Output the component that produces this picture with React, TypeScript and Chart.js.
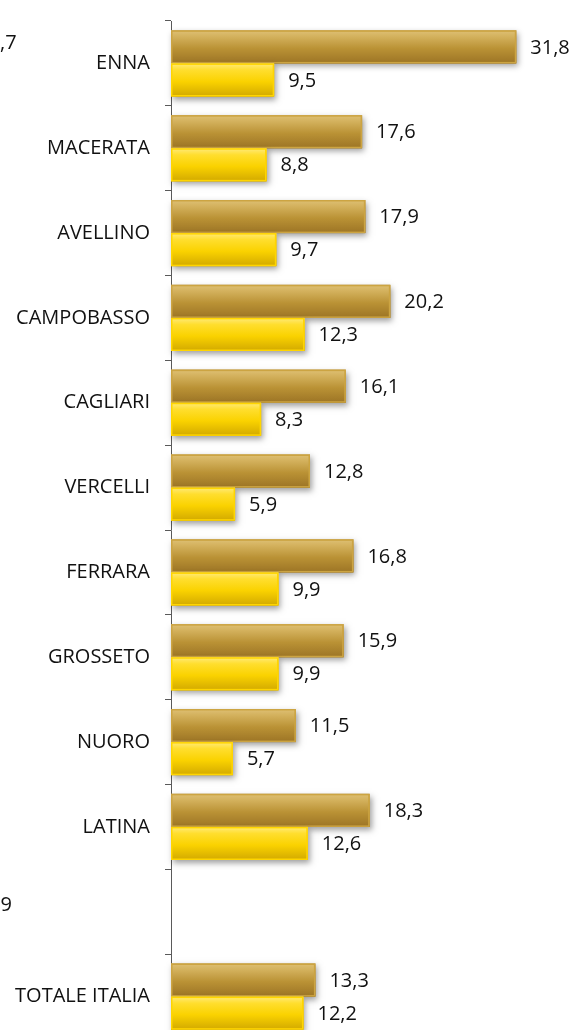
import React, { useEffect, useRef } from "react";
import { Chart, registerables } from "chart.js";

Chart.register(...registerables);

const categories = [
  "ENNA",
  "MACERATA",
  "AVELLINO",
  "CAMPOBASSO",
  "CAGLIARI",
  "VERCELLI",
  "FERRARA",
  "GROSSETO",
  "NUORO",
  "LATINA",
  "",
  "TOTALE ITALIA",
];
const seriesGold = [31.8, 17.6, 17.9, 20.2, 16.1, 12.8, 16.8, 15.9, 11.5, 18.3, null, 13.3];
const seriesYellow = [9.5, 8.8, 9.7, 12.3, 8.3, 5.9, 9.9, 9.9, 5.7, 12.6, null, 12.2];
const xMin = 0;
const xMax = 37.3;

const FONT = "'Open Sans', sans-serif";

const fmt = (v: number) => v.toFixed(1).replace(".", ",");

const styles: Record<number, { stops: [number, string][]; edge: string }> = {
  0: {
    stops: [
      [0, "#DEC075"],
      [0.18, "#D4B25E"],
      [0.55, "#BA9235"],
      [1, "#9C7425"],
    ],
    edge: "#CCA442",
  },
  1: {
    stops: [
      [0, "#FFEA7A"],
      [0.2, "#FFDE2E"],
      [0.55, "#FAD200"],
      [1, "#D2A900"],
    ],
    edge: "#FFD500",
  },
};

const barPlugin = {
  id: "fancyBars",
  beforeDatasetDraw() {
    return false;
  },
  afterDatasetsDraw(chart: any) {
    const { ctx } = chart;
    ctx.save();
    [0, 1].forEach((di) => {
      const meta = chart.getDatasetMeta(di);
      const ds = chart.data.datasets[di];
      const st = styles[di];
      meta.data.forEach((el: any, i: number) => {
        const v = ds.data[i];
        if (v == null) return;
        const p = el.getProps(["x", "y", "base", "height"], true);
        const left = Math.min(p.base, p.x);
        const w = Math.abs(p.x - p.base);
        const top = p.y - p.height / 2;
        const h = p.height;
        ctx.save();
        ctx.shadowColor = "rgba(0,0,0,0.38)";
        ctx.shadowBlur = 6;
        ctx.shadowOffsetX = 2;
        ctx.shadowOffsetY = 3;
        ctx.fillStyle = st.stops[st.stops.length - 1][1];
        ctx.fillRect(left, top, w, h);
        ctx.restore();
        const g = ctx.createLinearGradient(0, top, 0, top + h);
        st.stops.forEach(([o, c]) => g.addColorStop(o, c));
        ctx.fillStyle = g;
        ctx.fillRect(left, top, w, h);
        ctx.strokeStyle = st.edge;
        ctx.lineWidth = 1.5;
        ctx.strokeRect(left + 0.75, top + 0.75, w - 1.5, h - 1.5);
      });
    });
    // value labels
    ctx.fillStyle = "#111";
    ctx.font = `20px ${FONT}`;
    ctx.textAlign = "left";
    ctx.textBaseline = "middle";
    [0, 1].forEach((di) => {
      const meta = chart.getDatasetMeta(di);
      const ds = chart.data.datasets[di];
      meta.data.forEach((el: any, i: number) => {
        const v = ds.data[i];
        if (v == null) return;
        const p = el.getProps(["x", "y"], true);
        ctx.fillText(fmt(v), p.x + 14, p.y + 1);
      });
    });
    ctx.restore();
  },
};

export default function App() {
  const ref = useRef<HTMLCanvasElement | null>(null);

  useEffect(() => {
    if (!ref.current) return;
    const chart = new Chart(ref.current, {
      type: "bar",
      data: {
        labels: categories,
        datasets: [
          { label: "A", data: seriesGold as any, backgroundColor: "#B8902F" },
          { label: "B", data: seriesYellow as any, backgroundColor: "#FFD700" },
        ],
      },
      options: {
        indexAxis: "y",
        responsive: false,
        maintainAspectRatio: false,
        animation: false,
        devicePixelRatio: 1,
        layout: { padding: { top: 21, left: 0, right: 0, bottom: 0 } },
        datasets: { bar: { categoryPercentage: 0.78, barPercentage: 1 } },
        plugins: {
          legend: { display: false },
          tooltip: { enabled: false },
        },
        scales: {
          x: { display: false, min: xMin, max: xMax },
          y: {
            z: 1,
            offset: true,
            grid: {
              display: true,
              offset: true,
              drawOnChartArea: false,
              drawTicks: true,
              tickLength: 6,
              color: "#5A5A5A",
            },
            border: { display: true, color: "#5A5A5A", width: 1 },
            ticks: {
              color: "#111",
              padding: 15,
              font: { family: FONT, size: 20 },
            },
            afterFit: (scale: any) => {
              scale.width = 171;
              scale.paddingTop = 0;
              scale.paddingBottom = 0;
            },
          },
        },
      },
      plugins: [barPlugin as any],
    });
    return () => chart.destroy();
  }, []);

  const frag: React.CSSProperties = {
    position: "absolute",
    left: 0,
    fontFamily: FONT,
    fontSize: 20,
    lineHeight: "20px",
    color: "#111",
    textAlign: "right",
    whiteSpace: "nowrap",
  };

  return (
    <div
      style={{
        position: "absolute",
        left: 0,
        top: 0,
        width: 576,
        height: 1030,
        overflow: "hidden",
        background: "#fff",
      }}
    >
      <canvas ref={ref} width={576} height={1039} style={{ display: "block" }} />
      <div style={{ ...frag, top: 32, width: 15 }}>,7</div>
      <div style={{ ...frag, top: 894, width: 12 }}>9</div>
    </div>
  );
}
